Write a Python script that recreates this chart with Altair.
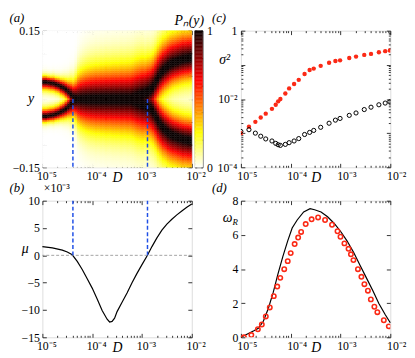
import math
import pandas as pd
import altair as alt

# ---------------- values ----------------
# (a) density P_n(y): per D column (log10 of column centre) the upper ridge
# position y_r (lower ridge at -y_r) and the spread of the density towards
# y = 0 (inner side) and away from it (outer side).
heat_logD = [round(-4.975 + 0.05 * i, 3) for i in range(60)]
ridge_y = [0.038, 0.038, 0.037, 0.036, 0.035, 0.033, 0.031, 0.028, 0.025, 0.021,
           0.016, 0.010, 0.005, 0.002, 0.0, 0.0, 0.0, 0.0, 0.0, 0.0,
           0.0, 0.0, 0.0, 0.0, 0.0, 0.0, 0.0, 0.0, 0.0, 0.0,
           0.0, 0.0, 0.0, 0.0, 0.0, 0.0, 0.002, 0.004, 0.006, 0.008,
           0.010, 0.013, 0.016, 0.020, 0.026, 0.036, 0.046, 0.055, 0.062, 0.067,
           0.072, 0.076, 0.079, 0.081, 0.083, 0.085, 0.087, 0.088, 0.089, 0.090]
spread_in = [0.015, 0.015, 0.015, 0.015, 0.015, 0.015, 0.015, 0.016, 0.016, 0.017,
             0.018, 0.022, 0.028, 0.036, 0.046, 0.050, 0.053, 0.055, 0.057, 0.058,
             0.059, 0.060, 0.060, 0.061, 0.061, 0.062, 0.062, 0.062, 0.063, 0.063,
             0.063, 0.064, 0.064, 0.064, 0.065, 0.065, 0.065, 0.066, 0.066, 0.066,
             0.065, 0.062, 0.058, 0.052, 0.048, 0.046, 0.045, 0.045, 0.045, 0.045,
             0.045, 0.045, 0.044, 0.044, 0.044, 0.044, 0.044, 0.044, 0.044, 0.044]
spread_out = [0.011, 0.011, 0.011, 0.011, 0.012, 0.012, 0.013, 0.014, 0.016, 0.018,
              0.021, 0.026, 0.029, 0.036, 0.046, 0.050, 0.053, 0.055, 0.057, 0.058,
              0.059, 0.060, 0.060, 0.061, 0.061, 0.062, 0.062, 0.062, 0.063, 0.063,
              0.063, 0.064, 0.064, 0.064, 0.065, 0.065, 0.065, 0.066, 0.066, 0.066,
              0.065, 0.062, 0.062, 0.060, 0.059, 0.058, 0.058, 0.057, 0.057, 0.056,
              0.056, 0.056, 0.055, 0.055, 0.055, 0.055, 0.055, 0.054, 0.054, 0.054]
heat_rows = [round(-0.15 + 0.004 * j, 3) for j in range(75)]

# zero crossings of mu (blue dashed lines)
cross_D = [4.1e-5, 1.29e-3]

# (b) mu, in units of 1e-3
mu_logD = [-5.0, -4.8, -4.6, -4.5, -4.4, -4.3, -4.2, -4.1, -4.0, -3.9, -3.8,
           -3.7, -3.65, -3.6, -3.55, -3.5, -3.4, -3.3, -3.2, -3.1, -3.0,
           -2.89, -2.8, -2.7, -2.6, -2.5, -2.4, -2.3, -2.2, -2.1, -2.0]
mu_val = [1.6, 1.35, 0.95, 0.6, 0.1, -1.1, -2.6, -4.3, -6.0, -8.0, -10.1,
          -11.7, -12.2, -12.1, -11.5, -10.3, -8.6, -6.9, -5.0, -3.3, -1.7,
          0.0, 1.6, 3.2, 4.6, 5.7, 6.6, 7.4, 8.1, 8.8, 9.4]

# (c) sigma^2
sig_D = [1.0e-5, 1.45e-5, 1.95e-5, 2.5e-5, 3.15e-5, 4.2e-5, 5.0e-5, 5.6e-5, 6.2e-5,
         7.8e-5, 9.3e-5, 1.17e-4, 1.45e-4, 1.9e-4, 2.4e-4, 2.9e-4, 4.0e-4, 5.9e-4,
         7.9e-4, 9.8e-4, 1.5e-3, 2.05e-3, 3.0e-3, 4.1e-3, 5.9e-3, 7.9e-3, 9.8e-3]
sig_red = [0.00100, 0.00155, 0.00214, 0.00288, 0.00372, 0.00513, 0.00676, 0.00851,
           0.0100, 0.0145, 0.0204, 0.0275, 0.0363, 0.0537, 0.0708, 0.0776, 0.0933,
           0.115, 0.129, 0.135, 0.158, 0.174, 0.195, 0.209, 0.234, 0.251, 0.263]
sig_black = [0.00112, 0.00126, 0.00100, 0.000813, 0.000676, 0.000589, 0.000501,
             0.000457, 0.000437, 0.000468, 0.000525, 0.000589, 0.000692, 0.000912,
             0.00105, 0.00120, 0.00148, 0.00195, 0.00240, 0.00269, 0.00331, 0.00389,
             0.00490, 0.00575, 0.00676, 0.00759, 0.00832]

# (d) omega_R: black line and red circles
om_line_D = [1.0e-5, 1.35e-5, 1.82e-5, 2.24e-5, 2.82e-5, 3.55e-5, 4.47e-5, 5.5e-5,
             6.92e-5, 8.71e-5, 1.07e-4, 1.35e-4, 1.82e-4, 2.45e-4, 3.02e-4, 4.07e-4,
             5.5e-4, 7.41e-4, 1.0e-3, 1.35e-3, 1.82e-3, 2.45e-3, 3.31e-3, 4.47e-3,
             5.89e-3, 7.94e-3, 1.0e-2]
om_line = [0.0, 0.19, 0.38, 0.53, 0.94, 1.69, 2.64, 3.67, 4.71, 5.65, 6.4, 6.87,
           7.34, 7.53, 7.47, 7.34, 7.06, 6.68, 6.21, 5.65, 4.99, 4.24, 3.48, 2.73,
           1.98, 1.32, 0.85]
om_pts_D = [1.15e-5, 1.62e-5, 2.19e-5, 2.63e-5, 3.16e-5, 3.80e-5, 4.57e-5, 5.37e-5,
            6.17e-5, 7.41e-5, 8.71e-5, 1.0e-4, 1.20e-4, 1.41e-4, 1.62e-4, 2.0e-4,
            2.63e-4, 3.55e-4, 4.90e-4, 6.76e-4, 8.71e-4, 1.0e-3, 1.20e-3, 1.45e-3,
            1.62e-3, 1.82e-3, 2.24e-3, 2.63e-3, 3.02e-3, 3.55e-3, 4.07e-3, 4.79e-3,
            5.50e-3, 7.41e-3, 9.33e-3]
om_pts = [0.0, 0.13, 0.47, 0.75, 1.22, 1.75, 2.41, 2.97, 3.48, 3.99, 4.46, 4.93,
          5.46, 5.84, 6.17, 6.63, 6.91, 7.02, 6.87, 6.59, 6.21, 5.89, 5.50, 5.18,
          4.86, 4.52, 3.99, 3.54, 3.11, 2.73, 2.22, 1.79, 1.47, 1.0, 0.64]

# tick positions
major_D = [1e-5, 1e-4, 1e-3, 1e-2]
minor_D = [k * 10.0 ** e for e in (-5, -4, -3) for k in range(2, 10)]
major_S = [1e-4, 1e-3, 1e-2, 1e-1, 1.0]
minor_S = [k * 10.0 ** e for e in (-4, -3, -2, -1) for k in range(2, 10)]
ticks_a = [-0.15, -0.1, -0.05, 0.0, 0.05, 0.1, 0.15]
ticks_b = [-15, -10, -5, 0, 5, 10]
ticks_d = [0, 2, 4, 6, 8]
ticks_cb = [0, 0.2, 0.4, 0.6, 0.8, 1]

# ---------------- tables ----------------
def density(y, yr, s_in, s_out):
    best = 0.0
    for c in (yr, -yr):
        d = y - c
        outward = (d >= 0) if c >= 0 else (d <= 0)
        s = s_out if outward else s_in
        best = max(best, math.exp(-(abs(d) / s) ** 1.5))
    return min(1.0, 1.05 * best)

heat_rec = []
for i, c in enumerate(heat_logD):
    for y0 in heat_rows:
        heat_rec.append({"D0": 10 ** (c - 0.025), "D1": 10 ** (c + 0.025),
                         "y0": y0, "y1": y0 + 0.004,
                         "v": density(y0 + 0.002, ridge_y[i], spread_in[i], spread_out[i])})
heat = pd.DataFrame(heat_rec)
cb = pd.DataFrame({"v0": [k / 100 for k in range(100)],
                   "v1": [(k + 1) / 100 for k in range(100)],
                   "vm": [(k + 0.5) / 100 for k in range(100)],
                   "c0": [0.0] * 100, "c1": [1.0] * 100})
mu_df = pd.DataFrame({"D": [10 ** x for x in mu_logD], "mu": mu_val})
blue_a = pd.DataFrame({"D": cross_D, "y0": [0.0, 0.0], "y1": [-0.15, -0.15]})
blue_b = pd.DataFrame({"D": cross_D, "y0": [0.0, 0.0], "y1": [10.0, 10.0]})
zero_df = pd.DataFrame({"mu": [0.0]})
sig_df = pd.DataFrame({"D": sig_D, "red": sig_red, "black": sig_black})
oml_df = pd.DataFrame({"D": om_line_D, "w": om_line})
omp_df = pd.DataFrame({"D": om_pts_D, "w": om_pts})

# ---------------- styling helpers ----------------
FONT = "Liberation Serif"
W, H = 152, 139
RED = "#fb2a16"
BLUE = "#1f4fe6"

XS = alt.Scale(type="log", domain=[1e-5, 1e-2], nice=False)
YA = alt.Scale(domain=[-0.15, 0.15], nice=False, zero=False)
YB = alt.Scale(domain=[-15, 10], nice=False, zero=False)
YC = alt.Scale(type="log", domain=[1e-4, 1], nice=False)
YD = alt.Scale(domain=[0, 8], nice=False, zero=False)
CS = alt.Scale(domain=[0, 0.254, 0.635, 1],
               range=["#ffffff", "#ffff00", "#ff0000", "#0b0000"],
               interpolate="rgb", clamp=True)

LOG_LABELS = ("datum.value < 3e-5 ? '10⁻⁵' : datum.value < 3e-4 ? '10⁻⁴' : "
              "datum.value < 3e-3 ? '10⁻³' : '10⁻²'")


def axis(orient, values, size, labels=None, title=None, tx=0, ty=0,
         talign="center", tbase="alphabetic", tsize=14, tstyle="italic",
         lpad=3, loff=0):
    kw = dict(orient=orient, values=values, tickSize=size, offset=-size,
              domain=False, grid=False, tickColor="black", tickWidth=0.8,
              ticks=size > 0, labelFlush=False, labelOverlap=False)
    if labels is None:
        kw["labels"] = False
    else:
        kw.update(labels=True, labelExpr=labels, labelPadding=lpad,
                  labelFont=FONT, labelFontSize=12, labelColor="black")
        if loff:
            kw["labelOffset"] = loff
    if title is None:
        kw["title"] = None
    else:
        kw.update(title=title, titleX=tx, titleY=ty, titleAngle=0,
                  titleAlign=talign, titleBaseline=tbase, titleFont=FONT,
                  titleFontSize=tsize, titleFontStyle=tstyle,
                  titleFontWeight="normal", titleColor="black", titlePadding=0)
    return alt.Axis(**kw)


def carrier(xs, ys, xv, yv, xax, yax):
    df = pd.DataFrame({"cx": [xv], "cy": [yv]})
    return alt.Chart(df).mark_point(opacity=0).encode(
        x=alt.X("cx:Q", scale=xs, axis=xax),
        y=alt.Y("cy:Q", scale=ys, axis=yax))


def x_bottom(loff=4):
    return axis("bottom", major_D, 4, labels=LOG_LABELS, title="D",
                tx=W / 2, ty=18, loff=loff)


def x_top(label):
    return axis("top", major_D, 4, title=label,
                tx=-34 if label in ("(a)", "(b)") else -30,
                ty=-13, talign="left", tsize=13)


def panel(layers, ys, yv, y_minor, label, top_minor_title=None):
    minor_top = (axis("top", minor_D, 2) if top_minor_title is None else
                 axis("top", minor_D, 2, title=top_minor_title, tx=1, ty=-11,
                      talign="left", tsize=12, tstyle="normal"))
    c1 = carrier(XS, ys, 1e-4, yv, axis("bottom", minor_D, 2), y_minor[0])
    c2 = carrier(XS, ys, 1e-4, yv, x_top(label), y_minor[1])
    c3 = carrier(XS, ys, 1e-4, yv, minor_top, y_minor[2])
    return (alt.layer(*layers, c1, c2, c3)
            .resolve_axis(x="independent", y="independent")
            .properties(width=W, height=H))


# ---------------- panel (a) ----------------
heat_layer = alt.Chart(heat).mark_rect(strokeWidth=0.4).encode(
    x=alt.X("D0:Q", scale=XS, axis=x_bottom(4)),
    x2="D1:Q",
    y=alt.Y("y0:Q", scale=YA,
            axis=axis("left", ticks_a, 4,
                      labels="datum.value > 0.14 ? '0.15' : datum.value < -0.14 ? '−0.15' : ''",
                      title="y", tx=-16, ty=H / 2, tbase="middle")),
    y2="y1:Q",
    color=alt.Color("v:Q", scale=CS, legend=None),
    stroke=alt.Stroke("v:Q", scale=CS, legend=None))
blue_a_layer = alt.Chart(blue_a).mark_rule(color=BLUE, strokeWidth=1.5,
                                           strokeDash=[4, 2.5]).encode(
    x=alt.X("D:Q", scale=XS, axis=None),
    y=alt.Y("y0:Q", scale=YA, axis=None), y2="y1:Q")
panel_a = panel([heat_layer, blue_a_layer], YA, 0.0,
                [axis("right", ticks_a, 4), None, None], "(a)")

# colour bar
cbar_main = alt.Chart(cb).mark_rect(strokeWidth=0.4).encode(
    x=alt.X("c0:Q", scale=alt.Scale(domain=[0, 1], nice=False),
            axis=axis("top", [], 0, title="Pₙ(y)", tx=9, ty=-6,
                      talign="right", tsize=14)),
    x2="c1:Q",
    y=alt.Y("v0:Q", scale=alt.Scale(domain=[0, 1], nice=False),
            axis=axis("right", ticks_cb, 2, lpad=4,
                      labels="datum.value == 0 ? '0' : datum.value == 1 ? '1' : ''")),
    y2="v1:Q",
    color=alt.Color("vm:Q", scale=CS, legend=None),
    stroke=alt.Stroke("vm:Q", scale=CS, legend=None))
cbar_side = carrier(alt.Scale(domain=[0, 1], nice=False),
                    alt.Scale(domain=[0, 1], nice=False), 0.5, 0.5,
                    None, axis("left", ticks_cb, 2))
cbar = (alt.layer(cbar_main, cbar_side)
        .resolve_axis(x="independent", y="independent")
        .properties(width=8, height=H, view=alt.ViewBackground(stroke="#555555")))


def spacer(w):
    df = pd.DataFrame({"s": [0.0]})
    return alt.Chart(df).mark_point(opacity=0).encode(
        x=alt.X("s:Q", axis=None), y=alt.Y("s:Q", axis=None)
    ).properties(width=w, height=H, view=alt.ViewBackground(stroke="transparent"))


# ---------------- panel (b) ----------------
mu_line = alt.Chart(mu_df).mark_line(color="black", strokeWidth=1.2).encode(
    x=alt.X("D:Q", scale=XS, axis=x_bottom(4)),
    y=alt.Y("mu:Q", scale=YB,
            axis=axis("left", ticks_b, 4,
                      labels="datum.value < 0 ? '−' + abs(datum.value) : '' + datum.value",
                      title="μ", tx=-22, ty=48.5, tbase="middle")))
zero_rule = alt.Chart(zero_df).mark_rule(color="#8c8c8c", strokeWidth=0.8,
                                         strokeDash=[3, 2]).encode(
    y=alt.Y("mu:Q", scale=YB, axis=None))
blue_b_layer = alt.Chart(blue_b).mark_rule(color=BLUE, strokeWidth=1.5,
                                           strokeDash=[4, 2.5]).encode(
    x=alt.X("D:Q", scale=XS, axis=None),
    y=alt.Y("y0:Q", scale=YB, axis=None), y2="y1:Q")
panel_b = panel([mu_line, zero_rule, blue_b_layer], YB, 0.0,
                [axis("right", ticks_b, 4), None, None], "(b)",
                top_minor_title="×10⁻³")

# ---------------- panel (c) ----------------
red_dots = alt.Chart(sig_df).mark_point(filled=True, color=RED, size=20,
                                        opacity=1, clip=True).encode(
    x=alt.X("D:Q", scale=XS, axis=x_bottom(6)),
    y=alt.Y("red:Q", scale=YC,
            axis=axis("left", major_S, 4,
                      labels="datum.value > 0.5 ? '1' : (datum.value > 5e-3 && datum.value < 5e-2) ? '10⁻²' : datum.value < 5e-4 ? '10⁻⁴' : ''",
                      title="σ²", tx=-21, ty=29.6, tbase="middle", lpad=4)))
black_rings = alt.Chart(sig_df).mark_point(filled=False, color="black", size=18,
                                           strokeWidth=1, opacity=1, clip=True).encode(
    x=alt.X("D:Q", scale=XS, axis=None),
    y=alt.Y("black:Q", scale=YC, axis=None))
panel_c = panel([red_dots, black_rings], YC, 1e-2,
                [axis("left", minor_S, 2), axis("right", major_S, 4),
                 axis("right", minor_S, 2)], "(c)")

# ---------------- panel (d) ----------------
om_line_layer = alt.Chart(oml_df).mark_line(color="black", strokeWidth=1.2).encode(
    x=alt.X("D:Q", scale=XS, axis=x_bottom(6)),
    y=alt.Y("w:Q", scale=YD,
            axis=axis("left", ticks_d, 4, labels="'' + datum.value",
                      title="ω", tx=-13, ty=21, talign="right")))
om_pts_layer = alt.Chart(omp_df).mark_point(filled=False, color=RED, size=20,
                                            strokeWidth=1.6, opacity=1, clip=True).encode(
    x=alt.X("D:Q", scale=XS, axis=None),
    y=alt.Y("w:Q", scale=YD, axis=None))
panel_d = panel([om_line_layer, om_pts_layer], YD, 4.0,
                [axis("right", ticks_d, 4, title="R", tx=-(W - 4) - 9, ty=24,
                      talign="left", tsize=9), None, None], "(d)")

chart = alt.concat(panel_a, cbar, spacer(33), panel_c,
                   panel_b, spacer(8), spacer(33), panel_d,
                   columns=4, spacing={"row": 34, "column": 3}, bounds="flush"
                   ).properties(padding=0
                   ).configure_view(stroke="black", strokeWidth=0.8
                   ).configure(font=FONT)

chart.save("out.html", embed_options={"renderer": "svg", "actions": False})
